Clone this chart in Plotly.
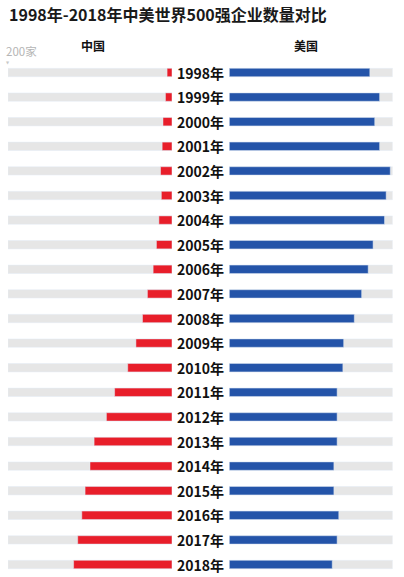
import plotly.graph_objects as go

years = ["1998年", "1999年", "2000年", "2001年", "2002年", "2003年", "2004年",
         "2005年", "2006年", "2007年", "2008年", "2009年", "2010年", "2011年",
         "2012年", "2013年", "2014年", "2015年", "2016年", "2017年", "2018年"]
china = [6, 8, 11, 12, 14, 13, 16, 19, 23, 30, 36, 44, 54, 70, 80, 95, 100, 106, 110, 115, 120]
usa = [172, 184, 178, 184, 197, 192, 190, 176, 170, 162, 153, 140, 139, 132, 132, 132, 128, 128, 134, 132, 126]
scale_max = 200
bg_values = [scale_max] * len(years)

W, H = 404, 577
RED = "#E81E2A"
BLUE = "#2454A9"
GRAY = "#E6E6E6"
BAR_W = 0.34

fig = go.Figure()
fig.add_trace(go.Bar(y=years, x=bg_values, orientation="h", marker_color=GRAY,
                     width=BAR_W, xaxis="x", yaxis="y", hoverinfo="skip", showlegend=False))
fig.add_trace(go.Bar(y=years, x=china, orientation="h", marker_color=RED,
                     width=BAR_W, xaxis="x", yaxis="y", name="中国", showlegend=False))
fig.add_trace(go.Bar(y=years, x=bg_values, orientation="h", marker_color=GRAY,
                     width=BAR_W, xaxis="x2", yaxis="y", hoverinfo="skip", showlegend=False))
fig.add_trace(go.Bar(y=years, x=usa, orientation="h", marker_color=BLUE,
                     width=BAR_W, xaxis="x2", yaxis="y", name="美国", showlegend=False))

row_px = 24.6
top_c, bot_c = 72.5, 564.5
r_top = 0 - top_c / row_px
r_bot = (len(years) - 1) + (H - bot_c) / row_px

annotations = []
for y in years:
    annotations.append(dict(x=200 / W, y=y, xref="paper", yref="y", text="<b>%s</b>" % y,
                            showarrow=False, xanchor="center", yanchor="middle",
                            font=dict(size=14, color="#111111",
                                      family="Noto Sans CJK SC, sans-serif")))

annotations += [
    dict(x=7 / W, y=1 - 14 / H, xref="paper", yref="paper", xanchor="left", yanchor="middle",
         text="<b>1998年-2018年中美世界500强企业数量对比</b>", showarrow=False,
         font=dict(size=16, color="#1a1a1a", family="Noto Sans CJK SC, sans-serif")),
    dict(x=4 / W, y=1 - 51 / H, xref="paper", yref="paper", xanchor="left", yanchor="middle",
         text="200家", showarrow=False,
         font=dict(size=11.5, color="#b5b5b5", family="Noto Sans CJK SC, sans-serif")),
    dict(x=8 / W, y=1 - 63 / H, xref="paper", yref="paper", xanchor="center", yanchor="middle",
         text="▼", showarrow=False,
         font=dict(size=4, color="#c8c8c8", family="DejaVu Sans")),
    dict(x=93 / W, y=1 - 46 / H, xref="paper", yref="paper", xanchor="center", yanchor="middle",
         text="<b>中国</b>", showarrow=False,
         font=dict(size=12, color="#111111", family="Noto Sans CJK SC, sans-serif")),
    dict(x=306 / W, y=1 - 46 / H, xref="paper", yref="paper", xanchor="center", yanchor="middle",
         text="<b>美国</b>", showarrow=False,
         font=dict(size=12, color="#111111", family="Noto Sans CJK SC, sans-serif")),
]

fig.update_layout(
    width=W, height=H,
    margin=dict(l=0, r=0, t=0, b=0),
    paper_bgcolor="white", plot_bgcolor="white",
    barmode="overlay",
    xaxis=dict(domain=[8 / W, 172 / W], range=[scale_max, 0], visible=False, fixedrange=True),
    xaxis2=dict(domain=[229.3 / W, 392.7 / W], range=[0, scale_max], visible=False,
                anchor="y", fixedrange=True),
    yaxis=dict(type="category", categoryorder="array", categoryarray=years,
               range=[r_bot, r_top], visible=False, fixedrange=True),
    annotations=annotations,
    showlegend=False,
)

fig.write_html("out.html", config={"displayModeBar": False})
with open("out.html", "r", encoding="utf-8") as f:
    html = f.read()
html = html.replace("<head>", "<head><style>html,body{margin:0;padding:0;overflow:hidden;}</style>", 1)
with open("out.html", "w", encoding="utf-8") as f:
    f.write(html)
